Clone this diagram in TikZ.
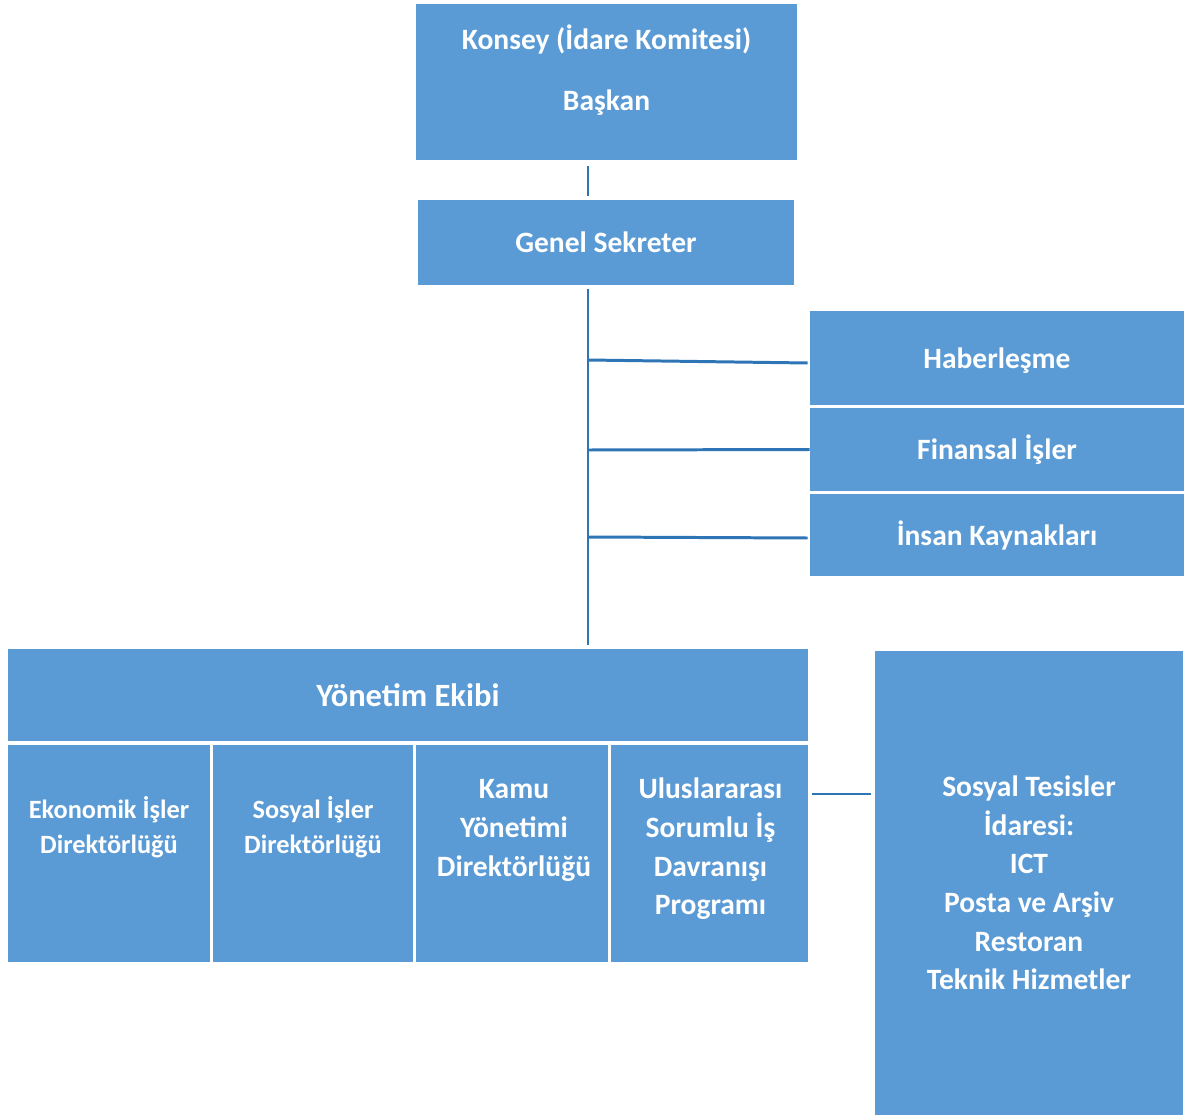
\documentclass[tikz,border=0pt]{standalone}
\usepackage{fontspec}
\setmainfont{Carlito}
\definecolor{kutu}{HTML}{5B9BD5}
\definecolor{hat}{HTML}{2E75B6}
\tikzset{
  box/.style={fill=kutu, inner sep=0pt},
  txt/.style={text=white, font=\fontsize{16.8}{22}\selectfont\bfseries, align=center, inner sep=0pt},
  txtk/.style={txt, font=\fontsize{15}{19.8}\selectfont\bfseries},
  conn/.style={draw=hat, line width=1.7pt}
}
\begin{document}
\begin{tikzpicture}[x=0.02cm,y=-0.02cm]
\useasboundingbox (0,0) rectangle (1184,1115);
% kutular
\node[box, minimum width=7.62cm, minimum height=3.12cm] (konsey) at (606.5,82) {};
\node[txt] (konseyT) at (606.5,70) {Konsey (İdare Komitesi)\\[13pt]Başkan};
\node[box, txt, minimum width=7.52cm, minimum height=1.70cm] (genel) at (606,242.5) {Genel Sekreter};
\node[box, txt, minimum width=7.48cm, minimum height=1.88cm, text height=0.42cm, text depth=0cm] (haber) at (997,358) {Haberleşme};
\node[box, txt, minimum width=7.48cm, minimum height=1.66cm] (finans) at (997,449.5) {Finansal İşler};
\node[box, txt, minimum width=7.48cm, minimum height=1.64cm] (insan) at (997,535) {İnsan Kaynakları};
\node[box, txt, font=\fontsize{18.5}{22}\selectfont\bfseries, minimum width=16.0cm, minimum height=1.84cm] (yonetim) at (408,695) {Yönetim Ekibi};
\node[box, minimum width=4.04cm, minimum height=4.34cm] (ekonomik) at (109,853.5) {};
\node[txtk] (ekonomikT) at (109,827.5) {Ekonomik İşler\\Direktörlüğü};
\node[box, minimum width=4.0cm, minimum height=4.34cm] (sosyal) at (313,853.5) {};
\node[txtk] (sosyalT) at (313,827.5) {Sosyal İşler\\Direktörlüğü};
\node[box, minimum width=3.84cm, minimum height=4.34cm] (kamu) at (512,853.5) {};
\node[txt] (kamuT) at (514,830.5) {Kamu\\Yönetimi\\Direktörlüğü};
\node[box, minimum width=3.94cm, minimum height=4.34cm] (ulus) at (709.5,853.5) {};
\node[txt] (ulusT) at (710.5,849) {Uluslararası\\Sorumlu İş\\Davranışı\\Programı};
\node[box, txt, minimum width=6.16cm, minimum height=9.28cm] (tesis) at (1029,883) {Sosyal Tesisler\\İdaresi:\\ICT\\Posta ve Arşiv\\Restoran\\Teknik Hizmetler};
% baglantilar
\coordinate (govde) at (588,0);
\coordinate (d1) at (588,360);
\coordinate (d2) at (588,450);
\coordinate (d3) at (588,537);
\coordinate (u) at (812,794);
\draw[conn, shorten <=3pt, shorten >=2pt] (konsey.south -| govde) -- (genel.north -| govde);
\draw[conn, shorten <=2pt, shorten >=2pt] (genel.south -| govde) -- (yonetim.north -| govde);
\draw[conn] (d1) -- ([shift={(-2,5)}]haber.west);
\draw[conn] (d2) -- (finans.west);
\draw[conn] (d3) -- ([shift={(-2,3)}]insan.west);
\draw[conn, shorten >=2pt] (u) -- (u -| tesis.west);
\end{tikzpicture}
\end{document}
